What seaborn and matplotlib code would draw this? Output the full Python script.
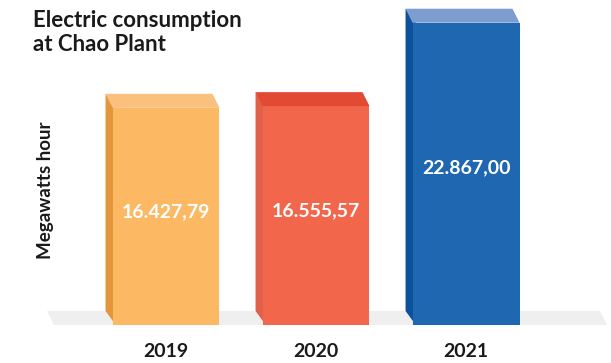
import matplotlib
matplotlib.use("Agg")
import matplotlib.pyplot as plt
import seaborn as sns
import pandas as pd
from matplotlib.patches import Polygon, Rectangle

# Electric consumption per year (MWh)
years = ["2019", "2020", "2021"]
consumption_mwh = [16427.79, 16555.57, 22867.00]

# Face colours for the pseudo-3D bars
front_colors = ["#FDB863", "#F2674B", "#1F68B1"]
top_colors = ["#F9C07E", "#E34A33", "#7D9CD0"]
side_colors = ["#E3963A", "#E0604A", "#0C519C"]
floor_color = "#EFEFEF"
text_color = "#1A1A1A"

# depth of the extrusion in screen pixels (left / up)
DEPTH_DX, DEPTH_DY = -7, 14

sns.set_theme(style="white")
plt.rcParams["font.family"] = ["Lato", "DejaVu Sans"]

fig = plt.figure(figsize=(6.11, 3.63), dpi=100)
ax = fig.add_axes([0.0884, 0.1047, 0.9051, 0.874])

df = pd.DataFrame({"year": years, "mwh": consumption_mwh})
sns.barplot(data=df, x="year", y="mwh", hue="year", order=years,
            hue_order=years, palette=front_colors, saturation=1,
            width=0.713, legend=False, ax=ax, zorder=3,
            linewidth=0, edgecolor="none")

ax.set_xlim(-0.7467, 2.94)
ax.set_ylim(0, 24000)

bars = sorted([p for p in ax.patches if isinstance(p, Rectangle)],
              key=lambda p: p.get_x())


def shifted(x, y):
    """Data point moved back by the extrusion depth."""
    disp = ax.transData.transform((x, y))
    disp = disp + (DEPTH_DX, DEPTH_DY)
    return tuple(ax.transData.inverted().transform(disp))


# floor slab
x0, x1 = ax.get_xlim()
floor = Polygon([(x0, 0), (x1, 0), shifted(x1, 0), shifted(x0, 0)],
                closed=True, facecolor=floor_color, edgecolor="none",
                zorder=1, clip_on=False)
ax.add_patch(floor)


def euro(v):
    return f"{v:,.2f}".replace(",", "X").replace(".", ",").replace("X", ".")


for bar, top_c, side_c in zip(bars, top_colors, side_colors):
    x = bar.get_x()
    w = bar.get_width()
    h = bar.get_height()
    tuck = w * 0.03  # hide the seam under the front face
    side = Polygon([(x + tuck, 0), (x + tuck, h), shifted(x, h), shifted(x, 0)],
                   closed=True, facecolor=side_c, edgecolor="none",
                   zorder=2, clip_on=False)
    top = Polygon([(x, h), (x + w, h), shifted(x + w, h), shifted(x, h)],
                  closed=True, facecolor=top_c, edgecolor="none",
                  zorder=3, clip_on=False)
    ax.add_patch(side)
    ax.add_patch(top)
    ax.text(x + w / 2, h * 0.52, euro(h), ha="center", va="center",
            color="white", fontsize=14, fontweight="bold", zorder=5)

ax.set_xlabel("")
ax.set_ylabel("")
ax.set_yticks([])
ax.tick_params(axis="x", length=0, pad=13, labelsize=14, colors=text_color)
for lbl in ax.get_xticklabels():
    lbl.set_fontweight("bold")
sns.despine(ax=ax, left=True, bottom=True)

fig.text(46 / 611, 1 - 190 / 363, "Megawatts hour", rotation=90,
         ha="center", va="center", fontsize=13.5, fontweight="bold",
         color=text_color)
fig.text(33 / 611, 1 - 10 / 363, "Electric consumption\nat Chao Plant",
         ha="left", va="top", fontsize=16, fontweight="bold",
         color=text_color, linespacing=1.2)

fig.savefig("out.png", dpi=100)
